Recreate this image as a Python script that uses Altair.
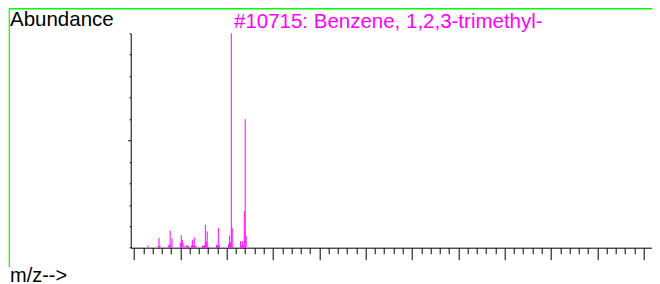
import altair as alt
import pandas as pd

# m/z values and relative abundances
mz = [15, 26, 27, 28, 37, 38, 39, 40, 41, 50, 51, 52, 53, 55, 57, 58, 59,
      62, 63, 64, 65, 66, 67, 74, 75, 76, 77, 78, 79, 80, 89, 90, 91, 92,
      102, 103, 104, 105, 106, 107, 115, 116, 117, 118, 119, 120, 121]
abundance = [1.0, 1.0, 4.5, 1.0, 0.8, 1.5, 8.0, 1.3, 4.3, 2.3, 5.8, 3.6, 2.2, 0.8, 1.2, 1.0, 0.8,
             1.0, 3.7, 1.2, 4.8, 1.0, 0.6, 0.8, 1.0, 1.2, 10.7, 2.8, 7.6, 0.6, 1.3, 0.8, 9.2, 1.2,
             1.5, 5.7, 2.5, 100.0, 9.2, 0.6, 3.0, 0.5, 3.0, 1.2, 17.0, 60.0, 5.6]

x_ticks = list(range(0, 560, 10))
y_ticks = list(range(0, 110, 10))

title_text = "#10715: Benzene, 1,2,3-trimethyl-"
y_label = "Abundance"
x_label = "m/z-->"

MAGENTA = "#ff00ff"
GREEN = "#00ff00"
FONT = "Liberation Sans"

df = pd.DataFrame({"mz": mz, "ab": abundance})
one = pd.DataFrame({"a": [0]})

# plot area spans abs x 130.7 .. 652 ; m/z 0 at abs 134, 0.9267 px per unit
xscale = alt.Scale(domain=[-3.56, 559.0], nice=False, zero=False)
yscale = alt.Scale(domain=[0, 100], nice=False)

peaks = alt.Chart(df).mark_rule(color=MAGENTA, strokeWidth=1).encode(
    x=alt.X("mz:Q", scale=xscale,
            axis=alt.Axis(values=x_ticks, labels=False, title=None, grid=False,
                          domainColor="black", tickColor="black", domainWidth=1,
                          tickWidth=1,
                          tickSize={"condition": {"test": "datum.value % 50 === 0", "value": 12}, "value": 6})),
    y=alt.Y("ab:Q", scale=yscale,
            axis=alt.Axis(values=y_ticks, labels=False, title=None, grid=False,
                          domainColor="black", tickColor="black", domainWidth=1,
                          tickWidth=1,
                          tickSize={"condition": {"test": "datum.value === 50", "value": 3}, "value": 1.5})),
    y2=alt.datum(0),
)

def text(t, x, y, color="black", align="left", size=20):
    return alt.Chart(one).mark_text(
        text=t, align=align, baseline="alphabetic", font=FONT, fontSize=size, color=color
    ).encode(x=alt.value(x), y=alt.value(y))

t_abund = text(y_label, -120.7, -7.3, size=20.5)
t_title = text(title_text, 257.6, -5.0, color=MAGENTA, align="center", size=20.5)
t_mz = text(x_label, -120.7, 249.2)

frame_top = alt.Chart(one).mark_rule(color=GREEN, strokeWidth=1.4).encode(
    x=alt.value(-121.4), x2=alt.value(540), y=alt.value(-24.6))
frame_left = alt.Chart(one).mark_rule(color=GREEN, strokeWidth=1.2).encode(
    x=alt.value(-121.4), y=alt.value(-25.3), y2=alt.value(233.7))

chart = alt.layer(peaks, t_abund, t_title, t_mz, frame_top, frame_left).properties(
    width=521.3, height=214.4,
    padding={"left": 122.7, "top": 25.3, "right": 0, "bottom": 40},
    autosize=alt.AutoSizeParams(type="none"),
).configure(background="white").configure_view(stroke=None)

chart.save("out.html", embed_options={"renderer": "svg", "actions": False})
